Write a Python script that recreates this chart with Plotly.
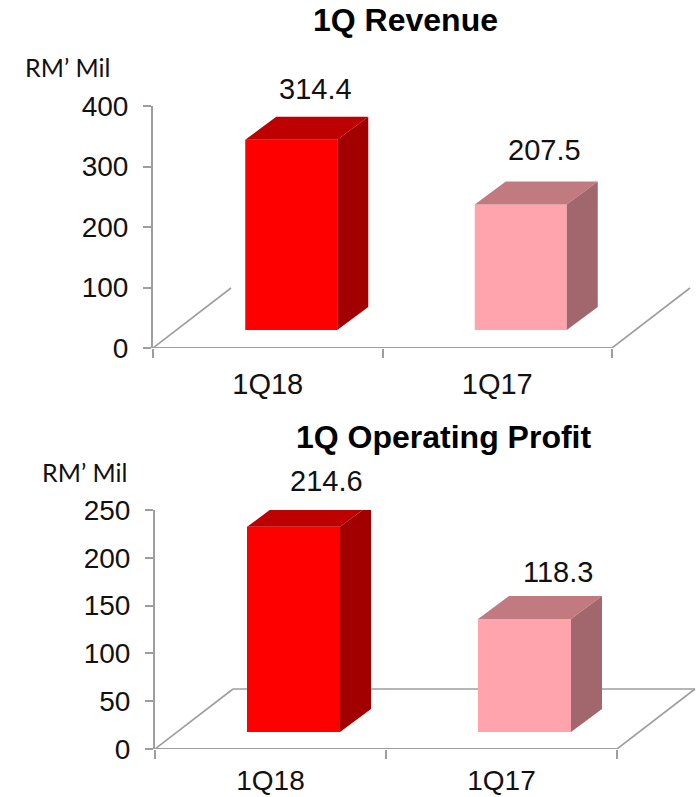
import plotly.graph_objects as go

W, H = 696, 797
categories = ["1Q18", "1Q17"]
revenue = [314.4, 207.5]
profit = [214.6, 118.3]
rev_ticks = [0, 100, 200, 300, 400]
pro_ticks = [0, 50, 100, 150, 200, 250]
front_cols = ["#FF0000", "#FFA3AC"]
top_cols = ["#BD0000", "#C27A81"]
side_cols = ["#A20000", "#A2676D"]
GREY = "#9E9E9E"
FONT = "Liberation Sans, Arial, sans-serif"
TXT = "#111111"

fig = go.Figure()
shapes, annos = [], []


def px_x(p):
    return p / W


def px_y(p):
    return 1 - p / H


def panel(n, vals, ticks, ymax, x0, y0, ytop, cat_px, bar_px, shift_px,
          base_px, dx_px, dy_px, floor_dx, floor_dy, back_line, label_dx, label_dy,
          title, title_xy, unit_xy, xtick_len, xtick_size):
    xa, ya = f"x{n}", f"y{n}"
    upp_y = ymax / (y0 - ytop)
    xr = [-0.5, -0.5 + (W - x0) / cat_px]
    dx = dx_px / cat_px
    dy = dy_px * upp_y
    base = base_px * upp_y
    half = bar_px / cat_px / 2
    shift = shift_px / cat_px
    xs = list(range(len(categories)))
    dom = [px_y(y0), px_y(ytop)]

    fig.add_trace(go.Bar(x=[i + shift for i in xs], y=vals, base=base, width=2 * half,
                         marker=dict(color=front_cols, line=dict(width=0)),
                         xaxis=xa, yaxis=ya, showlegend=False, hoverinfo="skip"))
    for i, v in zip(xs, vals):
        l, r = i + shift - half, i + shift + half
        t, b = base + v, base
        fig.add_trace(go.Scatter(x=[l, r, r + dx, l + dx, l], y=[t, t, t + dy, t + dy, t],
                                 fill="toself", fillcolor=top_cols[i], mode="lines",
                                 line=dict(width=0), cliponaxis=False, xaxis=xa, yaxis=ya,
                                 showlegend=False, hoverinfo="skip"))
        fig.add_trace(go.Scatter(x=[r, r + dx, r + dx, r, r], y=[t, t + dy, b + dy, b, t],
                                 fill="toself", fillcolor=side_cols[i], mode="lines",
                                 line=dict(width=0), cliponaxis=False, xaxis=xa, yaxis=ya,
                                 showlegend=False, hoverinfo="skip"))
        annos.append(dict(x=i + shift + label_dx / cat_px, xref=xa,
                          y=dom[0] + (t + dy) / ymax * (dom[1] - dom[0]), yref="paper",
                          text=f"{v:.1f}", showarrow=False, xanchor="center", yanchor="middle",
                          yshift=label_dy[i], font=dict(family=FONT, size=29, color=TXT)))

    # floor and baseline, beneath the bars
    fdx, fdy = floor_dx / cat_px, floor_dy * upp_y
    xl, xm = xr[0], xr[0] + len(categories)
    line = dict(color=GREY, width=1.6)
    common = dict(type="line", xref=xa, yref=ya, layer="below", line=line)
    shapes.append(dict(common, x0=xl, y0=0, x1=xl + fdx, y1=fdy))
    shapes.append(dict(common, x0=xm, y0=0, x1=xm + fdx, y1=fdy))
    if back_line:
        shapes.append(dict(common, x0=xl + fdx, y0=fdy, x1=xm + fdx, y1=fdy))
    shapes.append(dict(common, x0=xl, y0=0, x1=xm, y1=0, line=dict(color=GREY, width=2)))

    suffix = "" if n == "" else str(n)
    fig.update_layout({
        f"xaxis{suffix}": dict(
            domain=[px_x(x0), 1], range=xr, anchor=ya, showgrid=False, zeroline=False,
            automargin=False, showline=False, tickmode="array", tickvals=xs, ticktext=categories,
            ticks="outside", ticklen=xtick_len, tickcolor="rgba(0,0,0,0)", tickwidth=1,
            tickfont=dict(family=FONT, size=xtick_size, color=TXT),
            minor=dict(tickmode="array", tickvals=[-0.5, 0.5, 1.5], ticks="outside",
                       ticklen=9, tickwidth=2, tickcolor=GREY, showgrid=False)),
        f"yaxis{suffix}": dict(
            domain=dom, range=[0, ymax], anchor=xa, showgrid=False,
            automargin=False, zeroline=False, showline=True, linecolor=GREY, linewidth=2,
            tickmode="array", tickvals=ticks, ticks="outside", ticklen=8, tickwidth=2,
            tickcolor=GREY, ticklabelstandoff=9,
            tickfont=dict(family=FONT, size=28, color=TXT)),
    })
    annos.append(dict(x=px_x(title_xy[0]), y=px_y(title_xy[1]), xref="paper", yref="paper",
                      text=f"<b>{title}</b>", showarrow=False, xanchor="center", yanchor="middle",
                      font=dict(family=FONT, size=32, color="#000000")))
    annos.append(dict(x=px_x(unit_xy[0]), y=px_y(unit_xy[1]), xref="paper", yref="paper",
                      text="RM\u2019 Mil", showarrow=False, xanchor="center", yanchor="middle",
                      font=dict(family="Lato, Noto Sans, sans-serif", size=25, color=TXT)))


panel("", revenue, rev_ticks, 400, 153, 348, 106, 229.5, 92, 23.5, 18, 31, 23, 78, 60, False,
      24, [28, 31], "1Q Revenue", (405, 20), (67, 67), 10, 29)
panel(2, profit, pro_ticks, 250, 155, 749, 510, 231, 93, 23, 17, 31, 23, 78, 60, True,
      33, [23, 24], "1Q Operating Profit", (443, 437), (84, 472), 6, 28)

fig.update_layout(width=W, height=H, margin=dict(l=0, r=0, t=0, b=0), autosize=False,
                  paper_bgcolor="white", plot_bgcolor="rgba(0,0,0,0)", showlegend=False,
                  barmode="overlay", shapes=shapes, annotations=annos)
fig.write_html("out.html", config=dict(displayModeBar=False),
               post_script="document.body.style.margin='0';")
